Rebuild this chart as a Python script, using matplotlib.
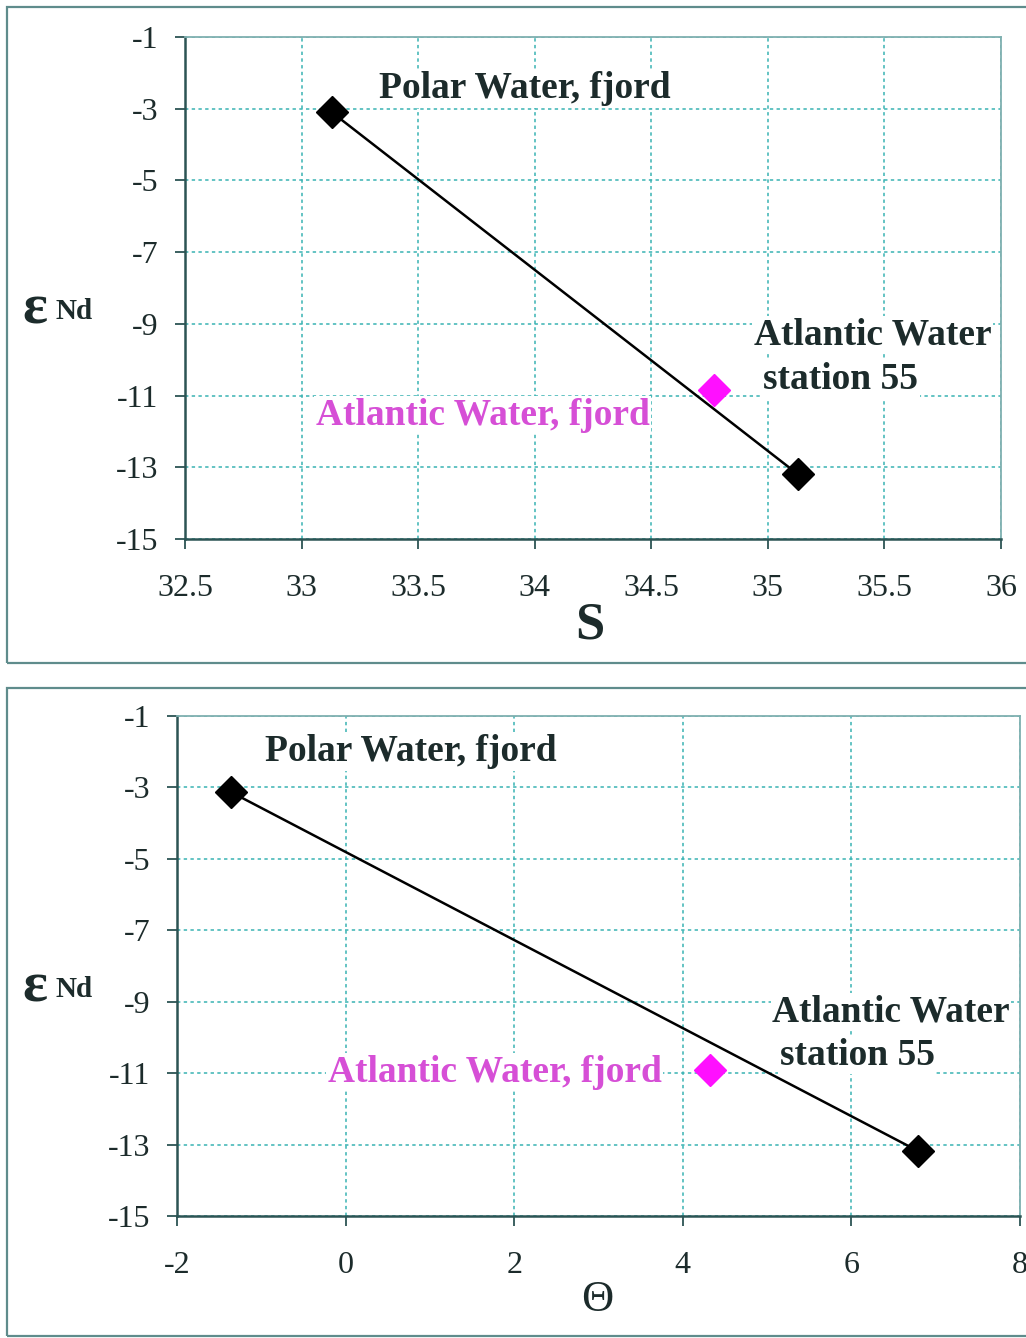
import matplotlib.pyplot as plt
from matplotlib.patches import Rectangle

# ---- data ----
salinity_end = [33.13, 35.13]       # Polar Water fjord, Atlantic Water st.55
theta_end = [-1.36, 6.79]
eps_end_top = [-3.1, -13.2]
eps_end_bot = [-3.13, -13.18]
salinity_fjord_aw = [34.77]
theta_fjord_aw = [4.32]
eps_fjord_aw_top = [-10.85]
eps_fjord_aw_bot = [-10.9]

s_ticks = [32.5, 33, 33.5, 34, 34.5, 35, 35.5, 36]
t_ticks = [-2, 0, 2, 4, 6, 8]
eps_ticks = [-1, -3, -5, -7, -9, -11, -13, -15]

SERIF = ['Liberation Serif', 'DejaVu Serif']
DARK = '#1c2b2b'
GRID = '#39b3b3'
MAG_TXT = '#d64fd6'

plt.rcParams['font.family'] = SERIF

fig = plt.figure(figsize=(10.26, 13.38), dpi=100)

# panel frames
for y0, h in [(1 - 663 / 1338, (663 - 7) / 1338), (1 - 1336 / 1338, (1336 - 688) / 1338)]:
    fig.patches.append(Rectangle((7 / 1026, y0), 1.1, h, transform=fig.transFigure,
                                 fill=False, ec='#5f8c8c', lw=1.6))


def style_axes(ax, xticks, xlim):
    ax.set_xlim(*xlim)
    ax.set_ylim(-15, -1)
    ax.set_xticks(xticks)
    ax.set_yticks(eps_ticks)
    ax.set_xticklabels([f'{t:g}' for t in xticks])
    ax.set_yticklabels([f'{t:g}' for t in eps_ticks])
    ax.grid(True, color=GRID, ls=(0, (2.2, 2.2)), lw=1.1)
    ax.set_axisbelow(True)
    for side in ['left', 'bottom']:
        ax.spines[side].set_color('#2c5454')
        ax.spines[side].set_linewidth(1.8)
    for side in ['top', 'right']:
        ax.spines[side].set_color('#7fb0b0')
        ax.spines[side].set_linewidth(1.3)
    ax.tick_params(axis='both', direction='out', length=7, width=1.3, color='#2c5454',
                   labelsize=23, labelcolor=DARK)
    ax.tick_params(axis='x', pad=18)
    ax.tick_params(axis='y', pad=12)


def label(ax, x, y, s, color=DARK):
    ax.text(x, y, s, fontsize=27, fontweight='bold', color=color, ha='left', va='center',
            zorder=3, bbox=dict(fc='white', ec='none', pad=1))


mk = dict(marker='D', markersize=16, ls='none')

# ---- top: salinity ----
ax1 = fig.add_axes([185 / 1026, 1 - 539 / 1338, 816 / 1026, 502 / 1338])
style_axes(ax1, s_ticks, (32.5, 36))
ax1.plot(salinity_fjord_aw, eps_fjord_aw_top, color='#ff10ff', zorder=4, **mk)
ax1.plot(salinity_end, eps_end_top, color='black', lw=1.8, zorder=5)
ax1.plot(salinity_end, eps_end_top, color='black', zorder=6, **mk)
label(ax1, 33.33, -2.45, 'Polar Water, fjord')
label(ax1, 34.94, -9.3, 'Atlantic Water')
label(ax1, 34.98, -10.55, 'station 55')
label(ax1, 33.06, -11.55, 'Atlantic Water, fjord', MAG_TXT)

# ---- bottom: potential temperature ----
ax2 = fig.add_axes([177 / 1026, 1 - 1216 / 1338, 843 / 1026, 500 / 1338])
style_axes(ax2, t_ticks, (-2, 8))
ax2.plot(theta_fjord_aw, eps_fjord_aw_bot, color='#ff10ff', zorder=4, **mk)
ax2.plot(theta_end, eps_end_bot, color='black', lw=1.8, zorder=5)
ax2.plot(theta_end, eps_end_bot, color='black', zorder=6, **mk)
label(ax2, -0.96, -2.0, 'Polar Water, fjord')
label(ax2, 5.06, -9.28, 'Atlantic Water')
label(ax2, 5.15, -10.5, 'station 55')
label(ax2, -0.21, -10.97, 'Atlantic Water, fjord', MAG_TXT)

# axis titles
for yc in [1 - 310 / 1338, 1 - 988 / 1338]:
    fig.text(22 / 1026, yc, '\u03b5', fontsize=42, fontweight='bold', color=DARK,
             ha='left', va='center')
    fig.text(55 / 1026, yc - 0.001, 'Nd', fontsize=21, fontweight='bold', color=DARK,
             ha='left', va='center')
fig.text(590 / 1026, 1 - 625 / 1338, 'S', fontsize=38, fontweight='bold', color=DARK,
         ha='center', va='center')
fig.text(597 / 1026, 1 - 1300 / 1338, '\u0398', fontsize=32, color=DARK,
         ha='center', va='center')

fig.savefig('out.png', dpi=100, facecolor='white')
